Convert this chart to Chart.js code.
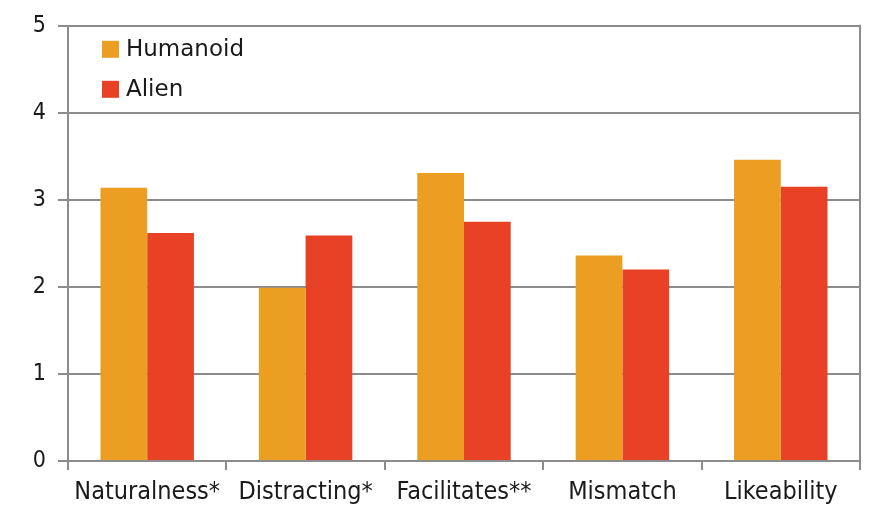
<!DOCTYPE html>
<html>
<head>
<meta charset="utf-8">
<script src="https://cdn.jsdelivr.net/npm/chart.js@4"></script>
<style>
  body { margin: 0; background: #fff; }
  #wrap { width: 874px; height: 508px; }
</style>
</head>
<body>
<div id="wrap"><canvas id="barChart" width="874" height="508"></canvas></div>
<script>
var categories = ['Naturalness*', 'Distracting*', 'Facilitates**', 'Mismatch', 'Likeability'];
var humanoid = [3.14, 1.99, 3.31, 2.36, 3.46];
var alien = [2.62, 2.59, 2.75, 2.20, 3.15];
var yTicks = [0, 1, 2, 3, 4, 5];

var FONT = '"DejaVu Sans Condensed", "Liberation Sans Narrow", "DejaVu Sans", sans-serif';
var LEGEND_FONT = '"DejaVu Sans", sans-serif';
var gridGray = '#8c8c8c';

// legend drawn inside the plot, top left, plus the right frame line
var insideLegend = {
    id: 'insideLegend',
    afterDraw: function(chart){
        var ctx = chart.ctx;
        var area = chart.chartArea;
        ctx.save();
        ctx.strokeStyle = gridGray;
        ctx.lineWidth = 2;
        ctx.beginPath();
        ctx.moveTo(area.right, area.top - 1);
        ctx.lineTo(area.right, area.bottom + 8);
        ctx.stroke();

        ctx.font = '23px ' + LEGEND_FONT;
        ctx.textBaseline = 'middle';
        chart.data.datasets.forEach(function(ds, i){
            var x = area.left + 34;
            var y = area.top + 23 + i * 40;
            ctx.fillStyle = ds.backgroundColor;
            ctx.fillRect(x, y - 8, 17, 17);
            ctx.fillStyle = '#1a1a1a';
            ctx.fillText(ds.label, x + 24, y + 1);
        });
        ctx.restore();
    }
};

let myChart = document.getElementById('barChart').getContext('2d');

let barChart = new Chart(myChart, {
    type: 'bar',
    data: {
        labels: categories,
        datasets: [{
            label: 'Humanoid',
            data: humanoid,
            backgroundColor: '#EB9E22'
        }, {
            label: 'Alien',
            data: alien,
            backgroundColor: '#E84125'
        }]
    },
    options: {
        responsive: false,
        animation: false,
        layout: { padding: { top: 23, right: 14, left: 0, bottom: 0 } },
        plugins: {
            legend: { display: false },
            tooltip: { enabled: false }
        },
        datasets: {
            bar: { categoryPercentage: 0.59, barPercentage: 1.0 }
        },
        scales: {
            x: {
                grid: {
                    display: true,
                    drawOnChartArea: false,
                    drawTicks: true,
                    tickLength: 9,
                    color: gridGray,
                    lineWidth: 2
                },
                border: { color: gridGray, width: 2 },
                ticks: {
                    color: '#1a1a1a',
                    font: { family: FONT, size: 25 },
                    padding: 7,
                    maxRotation: 0,
                    autoSkip: false
                },
                afterFit: function(axis){ axis.height = 47; }
            },
            y: {
                min: 0,
                max: 5,
                afterBuildTicks: function(axis){
                    axis.ticks = yTicks.map(function(v){ return { value: v }; });
                },
                grid: {
                    color: gridGray,
                    lineWidth: 2,
                    drawTicks: true,
                    tickLength: 10
                },
                border: { color: gridGray, width: 2 },
                ticks: {
                    color: '#1a1a1a',
                    font: { family: FONT, size: 23 },
                    padding: 12
                },
                afterFit: function(axis){ axis.width = 68; }
            }
        }
    },
    plugins: [insideLegend]
});
</script>
</body>
</html>
